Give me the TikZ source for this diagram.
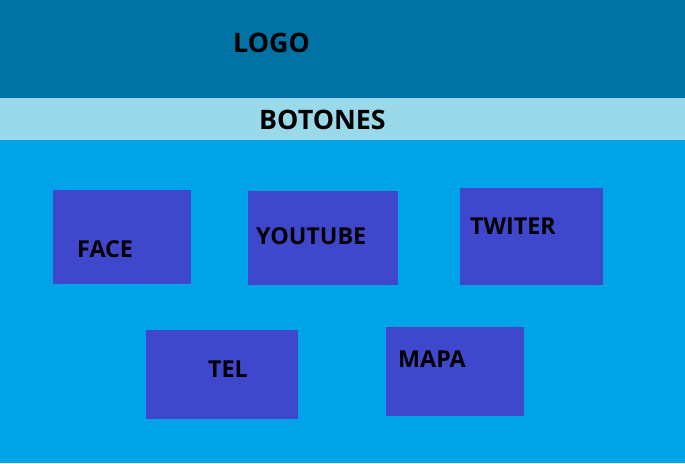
\documentclass[tikz,border=0pt]{standalone}
\usepackage{fontspec}
\setmainfont{Open Sans}
\definecolor{bandtop}{RGB}{0,114,163}
\definecolor{bandmid}{RGB}{153,217,234}
\definecolor{fondo}{RGB}{0,162,232}
\definecolor{boton}{RGB}{63,72,204}
\tikzset{
  caja/.style={rectangle,fill=boton,draw=none,inner sep=0pt,outer sep=0pt},
  rotulo/.style={anchor=base west,inner sep=0pt,font=\bfseries\fontsize{23.3}{28}\selectfont},
  titulo/.style={anchor=base west,inner sep=0pt,font=\bfseries\fontsize{26.8}{30}\selectfont}
}
\begin{document}
\begin{tikzpicture}[x=1pt,y=-1pt]
        \useasboundingbox (0,0) rectangle (685,463);
        %% Fondo
        \fill[fondo] (0,0) rectangle (685,463);
        \fill[bandtop] (0,0) rectangle (685,98);
        \fill[bandmid] (0,98) rectangle (685,140);
        \node[titulo] (logo) at (233,52) {LOGO};
        \node[titulo] (botones) at (259,129) {BOTONES};
        %% Botones
        \node[caja,minimum width=138pt,minimum height=94pt] (face) at (122,237) {};
        \node[caja,minimum width=150pt,minimum height=94pt] (youtube) at (323,238) {};
        \node[caja,minimum width=143pt,minimum height=97pt] (twiter) at (531.5,236.5) {};
        \node[caja,minimum width=152pt,minimum height=89pt] (tel) at (222,374.5) {};
        \node[caja,minimum width=138pt,minimum height=89pt] (mapa) at (455,371.5) {};
        %% Textos
        \node[rotulo] (tface) at (77,257) {FACE};
        \node[rotulo] (tyoutube) at (256,244) {YOUTUBE};
        \node[rotulo] (ttwiter) at (470,234) {TWITER};
        \node[rotulo] (ttel) at (208,377) {TEL};
        \node[rotulo] (tmapa) at (398,367) {MAPA};
\end{tikzpicture}
\end{document}
